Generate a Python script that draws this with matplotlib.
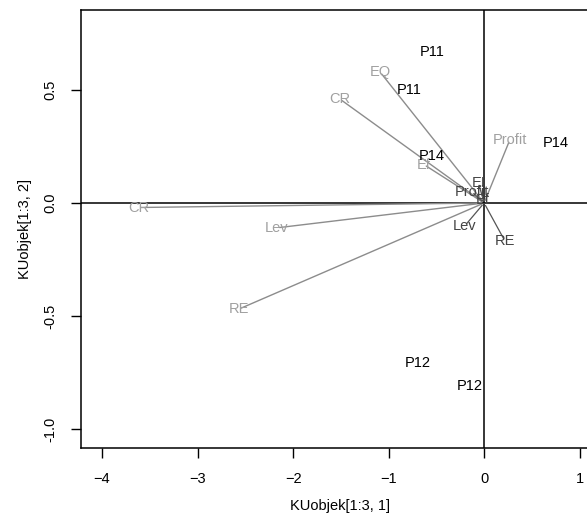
import matplotlib.pyplot as plt

plt.rcParams['font.family'] = ['Liberation Sans', 'DejaVu Sans']

# object scores (black labels)
obj_names = ['P11', 'P11', 'P14', 'P14', 'P12', 'P12']
obj_x = [-0.54, -0.78, 0.75, -0.55, -0.69, -0.15]
obj_y = [0.668, 0.50, 0.265, 0.21, -0.71, -0.81]

# variable loadings, first set (light grey arrows)
var1_names = ['EQ', 'CR', 'Ef', 'Profit', 'CR', 'Lev', 'RE']
var1_x = [-1.09, -1.51, -0.63, 0.27, -3.62, -2.17, -2.57]
var1_y = [0.58, 0.46, 0.17, 0.28, -0.02, -0.11, -0.47]

# variable loadings, second set (dark, short arrows)
var2_names = ['EI', 'Profit', 'Ef', 'Lev', 'RE']
var2_x = [-0.06, -0.13, -0.02, -0.20, 0.22]
var2_y = [0.09, 0.05, 0.013, -0.10, -0.17]

fs = 10.5

fig = plt.figure(figsize=(5.87, 5.2), dpi=100)
ax = fig.add_axes([0.1380, 0.1385, 0.882, 0.8423])
ax.set_xlim(-4.22, 1.2)
ax.set_ylim(-1.084, 0.854)

ax.axhline(0, color='black', lw=1.1, zorder=1)
ax.axvline(0, color='black', lw=1.1, zorder=1)

grey = '#8c8c8c'
for n, x, y in zip(var1_names, var1_x, var1_y):
    ax.annotate('', xy=(x, y), xytext=(0, 0),
                arrowprops=dict(arrowstyle='-', color=grey, lw=1.0))
    ax.text(x, y, n, color='#a0a0a0', fontsize=fs, ha='center', va='center')

for n, x, y in zip(var2_names, var2_x, var2_y):
    ax.annotate('', xy=(x, y), xytext=(0, 0),
                arrowprops=dict(arrowstyle='-', color='#555555', lw=0.9))
    ax.text(x, y, n, color='#444444', fontsize=fs, ha='center', va='center')

for n, x, y in zip(obj_names, obj_x, obj_y):
    ax.text(x, y, n, color='black', fontsize=fs, ha='center', va='center')

ax.set_xticks([-4, -3, -2, -1, 0, 1])
ax.set_yticks([-1.0, -0.5, 0.0, 0.5])
ax.set_yticklabels(['-1.0', '-0.5', '0.0', '0.5'], rotation=90, va='center')
ax.tick_params(direction='out', length=7, width=1, labelsize=fs, pad=10)
for s in ax.spines.values():
    s.set_linewidth(1.1)

ax.set_xlabel('KUobjek[1:3, 1]', fontsize=fs, labelpad=10)
ax.set_ylabel('KUobjek[1:3, 2]', fontsize=fs, labelpad=8)

fig.savefig('out.png', dpi=100)
